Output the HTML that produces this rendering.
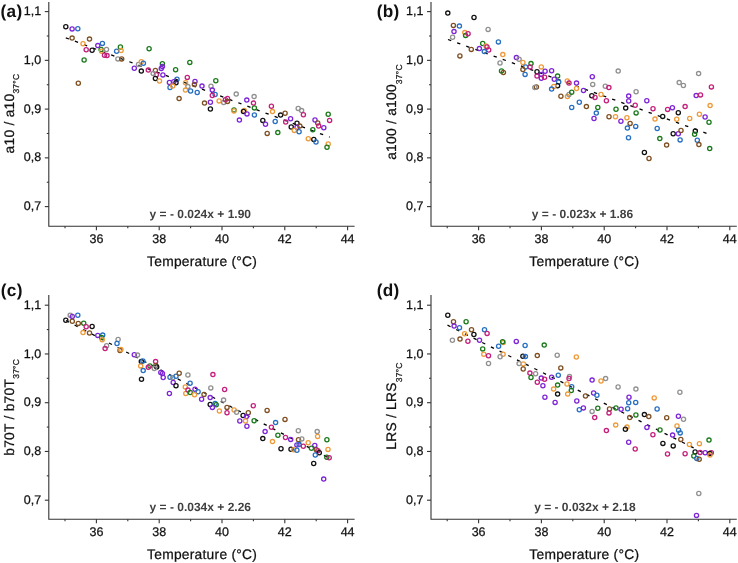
<!DOCTYPE html>
<html><head><meta charset="utf-8"><style>
html,body{margin:0;padding:0;background:#fff;}
body{width:738px;height:563px;overflow:hidden;}
svg{display:block;will-change:transform;}
text{font-family:"Liberation Sans", sans-serif;fill:#111;text-rendering:geometricPrecision;}
.tk,.lab{stroke:#111;stroke-width:0.25px;}
.tk{font-size:12.5px;}
.lab{font-size:13.8px;letter-spacing:0.25px;}
.sub{font-size:8.5px;}
.eq{font-size:12px;font-weight:bold;fill:#404040;}
.pl{font-size:17.2px;font-weight:bold;letter-spacing:0.3px;}
.dots circle{fill:none;stroke-width:1.3;}
</style></head><body>
<svg width="738" height="563" viewBox="0 0 738 563">
<path d="M48.80 2.00V226.30H354.60" fill="none" stroke="#333333" stroke-width="1.1"/>
<path d="M44.80 11.60H48.80" stroke="#333333" stroke-width="1.1"/>
<text x="41.20" y="15.20" text-anchor="end" class="tk">1,1</text>
<path d="M46.80 35.98H48.80" stroke="#333333" stroke-width="1.1"/>
<path d="M44.80 60.35H48.80" stroke="#333333" stroke-width="1.1"/>
<text x="41.20" y="63.95" text-anchor="end" class="tk">1,0</text>
<path d="M46.80 84.73H48.80" stroke="#333333" stroke-width="1.1"/>
<path d="M44.80 109.10H48.80" stroke="#333333" stroke-width="1.1"/>
<text x="41.20" y="112.70" text-anchor="end" class="tk">0,9</text>
<path d="M46.80 133.47H48.80" stroke="#333333" stroke-width="1.1"/>
<path d="M44.80 157.85H48.80" stroke="#333333" stroke-width="1.1"/>
<text x="41.20" y="161.45" text-anchor="end" class="tk">0,8</text>
<path d="M46.80 182.23H48.80" stroke="#333333" stroke-width="1.1"/>
<path d="M44.80 206.60H48.80" stroke="#333333" stroke-width="1.1"/>
<text x="41.20" y="210.20" text-anchor="end" class="tk">0,7</text>
<path d="M65.00 226.30V228.30" stroke="#333333" stroke-width="1.1"/>
<path d="M96.40 226.30V230.30" stroke="#333333" stroke-width="1.1"/>
<text x="96.40" y="243.40" text-anchor="middle" class="tk">36</text>
<path d="M127.80 226.30V228.30" stroke="#333333" stroke-width="1.1"/>
<path d="M159.20 226.30V230.30" stroke="#333333" stroke-width="1.1"/>
<text x="159.20" y="243.40" text-anchor="middle" class="tk">38</text>
<path d="M190.60 226.30V228.30" stroke="#333333" stroke-width="1.1"/>
<path d="M222.00 226.30V230.30" stroke="#333333" stroke-width="1.1"/>
<text x="222.00" y="243.40" text-anchor="middle" class="tk">40</text>
<path d="M253.40 226.30V228.30" stroke="#333333" stroke-width="1.1"/>
<path d="M284.80 226.30V230.30" stroke="#333333" stroke-width="1.1"/>
<text x="284.80" y="243.40" text-anchor="middle" class="tk">42</text>
<path d="M316.20 226.30V228.30" stroke="#333333" stroke-width="1.1"/>
<path d="M347.60 226.30V230.30" stroke="#333333" stroke-width="1.1"/>
<text x="347.60" y="243.40" text-anchor="middle" class="tk">44</text>
<text x="200.30" y="217.90" text-anchor="middle" class="eq">y = - 0.024x + 1.90</text>
<text x="202.10" y="265.60" text-anchor="middle" class="lab">Temperature (°C)</text>
<text transform="translate(14.00,113.50) rotate(-90)" text-anchor="middle" class="lab">a10 / a10<tspan class="sub" dy="5.3">37°C</tspan></text>
<text x="0.60" y="16.50" class="pl">(a)</text>
<path d="M65.8 37.8L329.7 137.2" stroke="#000" stroke-width="1.3" stroke-dasharray="3.4 6.3" fill="none"/>
<path d="M431.00 2.00V226.30H736.80" fill="none" stroke="#333333" stroke-width="1.1"/>
<path d="M427.00 11.60H431.00" stroke="#333333" stroke-width="1.1"/>
<text x="423.40" y="15.20" text-anchor="end" class="tk">1,1</text>
<path d="M429.00 35.98H431.00" stroke="#333333" stroke-width="1.1"/>
<path d="M427.00 60.35H431.00" stroke="#333333" stroke-width="1.1"/>
<text x="423.40" y="63.95" text-anchor="end" class="tk">1,0</text>
<path d="M429.00 84.73H431.00" stroke="#333333" stroke-width="1.1"/>
<path d="M427.00 109.10H431.00" stroke="#333333" stroke-width="1.1"/>
<text x="423.40" y="112.70" text-anchor="end" class="tk">0,9</text>
<path d="M429.00 133.47H431.00" stroke="#333333" stroke-width="1.1"/>
<path d="M427.00 157.85H431.00" stroke="#333333" stroke-width="1.1"/>
<text x="423.40" y="161.45" text-anchor="end" class="tk">0,8</text>
<path d="M429.00 182.23H431.00" stroke="#333333" stroke-width="1.1"/>
<path d="M427.00 206.60H431.00" stroke="#333333" stroke-width="1.1"/>
<text x="423.40" y="210.20" text-anchor="end" class="tk">0,7</text>
<path d="M447.20 226.30V228.30" stroke="#333333" stroke-width="1.1"/>
<path d="M478.60 226.30V230.30" stroke="#333333" stroke-width="1.1"/>
<text x="478.60" y="243.40" text-anchor="middle" class="tk">36</text>
<path d="M510.00 226.30V228.30" stroke="#333333" stroke-width="1.1"/>
<path d="M541.40 226.30V230.30" stroke="#333333" stroke-width="1.1"/>
<text x="541.40" y="243.40" text-anchor="middle" class="tk">38</text>
<path d="M572.80 226.30V228.30" stroke="#333333" stroke-width="1.1"/>
<path d="M604.20 226.30V230.30" stroke="#333333" stroke-width="1.1"/>
<text x="604.20" y="243.40" text-anchor="middle" class="tk">40</text>
<path d="M635.60 226.30V228.30" stroke="#333333" stroke-width="1.1"/>
<path d="M667.00 226.30V230.30" stroke="#333333" stroke-width="1.1"/>
<text x="667.00" y="243.40" text-anchor="middle" class="tk">42</text>
<path d="M698.40 226.30V228.30" stroke="#333333" stroke-width="1.1"/>
<path d="M729.80 226.30V230.30" stroke="#333333" stroke-width="1.1"/>
<text x="729.80" y="243.40" text-anchor="middle" class="tk">44</text>
<text x="582.50" y="217.90" text-anchor="middle" class="eq">y = - 0.023x + 1.86</text>
<text x="584.30" y="265.60" text-anchor="middle" class="lab">Temperature (°C)</text>
<text transform="translate(396.20,112.00) rotate(-90)" text-anchor="middle" class="lab">a100 / a100<tspan class="sub" dy="5.3">37°C</tspan></text>
<text x="376.80" y="16.50" class="pl">(b)</text>
<path d="M448.0 39.5L706.8 133.4" stroke="#000" stroke-width="1.3" stroke-dasharray="3.4 6.3" fill="none"/>
<path d="M48.80 295.00V519.30H354.60" fill="none" stroke="#333333" stroke-width="1.1"/>
<path d="M44.80 305.20H48.80" stroke="#333333" stroke-width="1.1"/>
<text x="41.20" y="308.80" text-anchor="end" class="tk">1,1</text>
<path d="M46.80 329.57H48.80" stroke="#333333" stroke-width="1.1"/>
<path d="M44.80 353.95H48.80" stroke="#333333" stroke-width="1.1"/>
<text x="41.20" y="357.55" text-anchor="end" class="tk">1,0</text>
<path d="M46.80 378.32H48.80" stroke="#333333" stroke-width="1.1"/>
<path d="M44.80 402.70H48.80" stroke="#333333" stroke-width="1.1"/>
<text x="41.20" y="406.30" text-anchor="end" class="tk">0,9</text>
<path d="M46.80 427.07H48.80" stroke="#333333" stroke-width="1.1"/>
<path d="M44.80 451.45H48.80" stroke="#333333" stroke-width="1.1"/>
<text x="41.20" y="455.05" text-anchor="end" class="tk">0,8</text>
<path d="M46.80 475.83H48.80" stroke="#333333" stroke-width="1.1"/>
<path d="M44.80 500.20H48.80" stroke="#333333" stroke-width="1.1"/>
<text x="41.20" y="503.80" text-anchor="end" class="tk">0,7</text>
<path d="M65.00 519.30V521.30" stroke="#333333" stroke-width="1.1"/>
<path d="M96.40 519.30V523.30" stroke="#333333" stroke-width="1.1"/>
<text x="96.40" y="536.40" text-anchor="middle" class="tk">36</text>
<path d="M127.80 519.30V521.30" stroke="#333333" stroke-width="1.1"/>
<path d="M159.20 519.30V523.30" stroke="#333333" stroke-width="1.1"/>
<text x="159.20" y="536.40" text-anchor="middle" class="tk">38</text>
<path d="M190.60 519.30V521.30" stroke="#333333" stroke-width="1.1"/>
<path d="M222.00 519.30V523.30" stroke="#333333" stroke-width="1.1"/>
<text x="222.00" y="536.40" text-anchor="middle" class="tk">40</text>
<path d="M253.40 519.30V521.30" stroke="#333333" stroke-width="1.1"/>
<path d="M284.80 519.30V523.30" stroke="#333333" stroke-width="1.1"/>
<text x="284.80" y="536.40" text-anchor="middle" class="tk">42</text>
<path d="M316.20 519.30V521.30" stroke="#333333" stroke-width="1.1"/>
<path d="M347.60 519.30V523.30" stroke="#333333" stroke-width="1.1"/>
<text x="347.60" y="536.40" text-anchor="middle" class="tk">44</text>
<text x="200.30" y="510.90" text-anchor="middle" class="eq">y = - 0.034x + 2.26</text>
<text x="202.10" y="558.60" text-anchor="middle" class="lab">Temperature (°C)</text>
<text transform="translate(14.00,407.30) rotate(-90)" text-anchor="middle" class="lab">b70T / b70T<tspan class="sub" dy="5.3">37°C</tspan></text>
<text x="0.80" y="296.30" class="pl">(c)</text>
<path d="M66.0 320.5L329.0 458.0" stroke="#000" stroke-width="1.3" stroke-dasharray="3.4 6.3" fill="none"/>
<path d="M431.00 295.00V519.30H736.80" fill="none" stroke="#333333" stroke-width="1.1"/>
<path d="M427.00 305.20H431.00" stroke="#333333" stroke-width="1.1"/>
<text x="423.40" y="308.80" text-anchor="end" class="tk">1,1</text>
<path d="M429.00 329.57H431.00" stroke="#333333" stroke-width="1.1"/>
<path d="M427.00 353.95H431.00" stroke="#333333" stroke-width="1.1"/>
<text x="423.40" y="357.55" text-anchor="end" class="tk">1,0</text>
<path d="M429.00 378.32H431.00" stroke="#333333" stroke-width="1.1"/>
<path d="M427.00 402.70H431.00" stroke="#333333" stroke-width="1.1"/>
<text x="423.40" y="406.30" text-anchor="end" class="tk">0,9</text>
<path d="M429.00 427.07H431.00" stroke="#333333" stroke-width="1.1"/>
<path d="M427.00 451.45H431.00" stroke="#333333" stroke-width="1.1"/>
<text x="423.40" y="455.05" text-anchor="end" class="tk">0,8</text>
<path d="M429.00 475.83H431.00" stroke="#333333" stroke-width="1.1"/>
<path d="M427.00 500.20H431.00" stroke="#333333" stroke-width="1.1"/>
<text x="423.40" y="503.80" text-anchor="end" class="tk">0,7</text>
<path d="M447.20 519.30V521.30" stroke="#333333" stroke-width="1.1"/>
<path d="M478.60 519.30V523.30" stroke="#333333" stroke-width="1.1"/>
<text x="478.60" y="536.40" text-anchor="middle" class="tk">36</text>
<path d="M510.00 519.30V521.30" stroke="#333333" stroke-width="1.1"/>
<path d="M541.40 519.30V523.30" stroke="#333333" stroke-width="1.1"/>
<text x="541.40" y="536.40" text-anchor="middle" class="tk">38</text>
<path d="M572.80 519.30V521.30" stroke="#333333" stroke-width="1.1"/>
<path d="M604.20 519.30V523.30" stroke="#333333" stroke-width="1.1"/>
<text x="604.20" y="536.40" text-anchor="middle" class="tk">40</text>
<path d="M635.60 519.30V521.30" stroke="#333333" stroke-width="1.1"/>
<path d="M667.00 519.30V523.30" stroke="#333333" stroke-width="1.1"/>
<text x="667.00" y="536.40" text-anchor="middle" class="tk">42</text>
<path d="M698.40 519.30V521.30" stroke="#333333" stroke-width="1.1"/>
<path d="M729.80 519.30V523.30" stroke="#333333" stroke-width="1.1"/>
<text x="729.80" y="536.40" text-anchor="middle" class="tk">44</text>
<text x="584.90" y="510.90" text-anchor="middle" class="eq">y = - 0.032x + 2.18</text>
<text x="584.30" y="558.60" text-anchor="middle" class="lab">Temperature (°C)</text>
<text transform="translate(396.20,406.00) rotate(-90)" text-anchor="middle" class="lab">LRS / LRS<tspan class="sub" dy="5.3">37°C</tspan></text>
<text x="376.80" y="296.30" class="pl">(d)</text>
<path d="M447.5 325.2L710.0 456.0" stroke="#000" stroke-width="1.3" stroke-dasharray="3.4 6.3" fill="none"/>
<g class="dots">
<circle cx="65.8" cy="26.7" r="2.1" stroke="#111111"/>
<circle cx="72.1" cy="28.9" r="2.1" stroke="#7d24d6"/>
<circle cx="77.8" cy="28.7" r="2.1" stroke="#276fc2"/>
<circle cx="72.1" cy="38.1" r="2.1" stroke="#7f4f22"/>
<circle cx="89.5" cy="39.1" r="2.1" stroke="#7f4f22"/>
<circle cx="83.0" cy="43.7" r="2.1" stroke="#ee9a38"/>
<circle cx="86.2" cy="49.7" r="2.1" stroke="#c41f7c"/>
<circle cx="92.1" cy="50.2" r="2.1" stroke="#111111"/>
<circle cx="97.8" cy="45.6" r="2.1" stroke="#7d24d6"/>
<circle cx="102.4" cy="43.4" r="2.1" stroke="#276fc2"/>
<circle cx="101.1" cy="49.5" r="2.1" stroke="#1a7a1a"/>
<circle cx="101.6" cy="51.3" r="2.1" stroke="#ee9a38"/>
<circle cx="106.5" cy="49.5" r="2.1" stroke="#909090"/>
<circle cx="104.5" cy="55.3" r="2.1" stroke="#c41f7c"/>
<circle cx="107.0" cy="55.6" r="2.1" stroke="#c41f7c"/>
<circle cx="84.1" cy="60.0" r="2.1" stroke="#1a7a1a"/>
<circle cx="116.6" cy="51.3" r="2.1" stroke="#276fc2"/>
<circle cx="120.4" cy="47.0" r="2.1" stroke="#1a7a1a"/>
<circle cx="121.1" cy="50.6" r="2.1" stroke="#ee9a38"/>
<circle cx="117.9" cy="58.9" r="2.1" stroke="#909090"/>
<circle cx="121.7" cy="58.9" r="2.1" stroke="#7f4f22"/>
<circle cx="134.3" cy="68.3" r="2.1" stroke="#7d24d6"/>
<circle cx="149.1" cy="48.7" r="2.1" stroke="#1a7a1a"/>
<circle cx="138.5" cy="64.5" r="2.1" stroke="#909090"/>
<circle cx="141.3" cy="61.7" r="2.1" stroke="#ee9a38"/>
<circle cx="143.4" cy="63.3" r="2.1" stroke="#276fc2"/>
<circle cx="141.3" cy="71.1" r="2.1" stroke="#111111"/>
<circle cx="148.3" cy="70.1" r="2.1" stroke="#c41f7c"/>
<circle cx="155.4" cy="70.4" r="2.1" stroke="#7f4f22"/>
<circle cx="162.4" cy="63.8" r="2.1" stroke="#1a7a1a"/>
<circle cx="161.3" cy="68.4" r="2.1" stroke="#7d24d6"/>
<circle cx="162.4" cy="66.6" r="2.1" stroke="#7d24d6"/>
<circle cx="156.4" cy="74.7" r="2.1" stroke="#c41f7c"/>
<circle cx="153.2" cy="73.6" r="2.1" stroke="#909090"/>
<circle cx="155.4" cy="78.5" r="2.1" stroke="#111111"/>
<circle cx="159.5" cy="81.0" r="2.1" stroke="#ee9a38"/>
<circle cx="162.9" cy="74.9" r="2.1" stroke="#7d24d6"/>
<circle cx="175.6" cy="69.8" r="2.1" stroke="#1a7a1a"/>
<circle cx="189.8" cy="62.4" r="2.1" stroke="#1a7a1a"/>
<circle cx="187.3" cy="77.4" r="2.1" stroke="#c41f7c"/>
<circle cx="177.0" cy="79.2" r="2.1" stroke="#276fc2"/>
<circle cx="169.4" cy="82.5" r="2.1" stroke="#7d24d6"/>
<circle cx="173.8" cy="81.7" r="2.1" stroke="#7d24d6"/>
<circle cx="176.0" cy="82.8" r="2.1" stroke="#111111"/>
<circle cx="170.0" cy="87.5" r="2.1" stroke="#276fc2"/>
<circle cx="172.7" cy="86.1" r="2.1" stroke="#ee9a38"/>
<circle cx="185.5" cy="82.8" r="2.1" stroke="#ee9a38"/>
<circle cx="187.9" cy="86.6" r="2.1" stroke="#909090"/>
<circle cx="185.5" cy="90.1" r="2.1" stroke="#ee9a38"/>
<circle cx="190.6" cy="91.0" r="2.1" stroke="#276fc2"/>
<circle cx="195.0" cy="81.4" r="2.1" stroke="#7d24d6"/>
<circle cx="194.4" cy="84.4" r="2.1" stroke="#7f4f22"/>
<circle cx="202.0" cy="86.1" r="2.1" stroke="#7d24d6"/>
<circle cx="197.2" cy="92.5" r="2.1" stroke="#276fc2"/>
<circle cx="179.1" cy="98.6" r="2.1" stroke="#7f4f22"/>
<circle cx="215.8" cy="80.8" r="2.1" stroke="#1a7a1a"/>
<circle cx="211.0" cy="86.3" r="2.1" stroke="#909090"/>
<circle cx="212.3" cy="90.1" r="2.1" stroke="#7d24d6"/>
<circle cx="215.1" cy="94.4" r="2.1" stroke="#276fc2"/>
<circle cx="212.3" cy="95.5" r="2.1" stroke="#c41f7c"/>
<circle cx="204.5" cy="103.1" r="2.1" stroke="#7f4f22"/>
<circle cx="210.4" cy="102.3" r="2.1" stroke="#7d24d6"/>
<circle cx="210.4" cy="109.0" r="2.1" stroke="#111111"/>
<circle cx="219.1" cy="100.9" r="2.1" stroke="#ee9a38"/>
<circle cx="223.7" cy="102.5" r="2.1" stroke="#909090"/>
<circle cx="225.4" cy="99.8" r="2.1" stroke="#c41f7c"/>
<circle cx="227.5" cy="98.4" r="2.1" stroke="#c41f7c"/>
<circle cx="227.5" cy="101.4" r="2.1" stroke="#7f4f22"/>
<circle cx="236.2" cy="94.1" r="2.1" stroke="#909090"/>
<circle cx="246.8" cy="100.1" r="2.1" stroke="#7d24d6"/>
<circle cx="254.1" cy="96.6" r="2.1" stroke="#909090"/>
<circle cx="253.5" cy="103.1" r="2.1" stroke="#c41f7c"/>
<circle cx="254.4" cy="107.9" r="2.1" stroke="#1a7a1a"/>
<circle cx="234.0" cy="110.0" r="2.1" stroke="#1a7a1a"/>
<circle cx="234.0" cy="111.0" r="2.1" stroke="#ee9a38"/>
<circle cx="244.3" cy="110.5" r="2.1" stroke="#ee9a38"/>
<circle cx="243.5" cy="111.5" r="2.1" stroke="#111111"/>
<circle cx="247.0" cy="113.9" r="2.1" stroke="#7d24d6"/>
<circle cx="254.4" cy="115.0" r="2.1" stroke="#276fc2"/>
<circle cx="239.4" cy="120.1" r="2.1" stroke="#7d24d6"/>
<circle cx="262.8" cy="120.4" r="2.1" stroke="#111111"/>
<circle cx="265.5" cy="124.2" r="2.1" stroke="#7d24d6"/>
<circle cx="271.4" cy="106.3" r="2.1" stroke="#c41f7c"/>
<circle cx="272.5" cy="111.6" r="2.1" stroke="#ee9a38"/>
<circle cx="275.2" cy="121.5" r="2.1" stroke="#276fc2"/>
<circle cx="267.2" cy="133.4" r="2.1" stroke="#7f4f22"/>
<circle cx="277.8" cy="132.6" r="2.1" stroke="#1a7a1a"/>
<circle cx="280.6" cy="115.1" r="2.1" stroke="#111111"/>
<circle cx="285.1" cy="113.3" r="2.1" stroke="#7f4f22"/>
<circle cx="285.7" cy="122.1" r="2.1" stroke="#c41f7c"/>
<circle cx="290.6" cy="118.8" r="2.1" stroke="#7d24d6"/>
<circle cx="298.2" cy="108.4" r="2.1" stroke="#909090"/>
<circle cx="301.6" cy="110.6" r="2.1" stroke="#909090"/>
<circle cx="303.4" cy="114.8" r="2.1" stroke="#c41f7c"/>
<circle cx="297.0" cy="123.3" r="2.1" stroke="#111111"/>
<circle cx="291.2" cy="127.0" r="2.1" stroke="#111111"/>
<circle cx="297.0" cy="127.3" r="2.1" stroke="#7d24d6"/>
<circle cx="299.8" cy="126.1" r="2.1" stroke="#7f4f22"/>
<circle cx="294.3" cy="130.4" r="2.1" stroke="#ee9a38"/>
<circle cx="299.1" cy="131.8" r="2.1" stroke="#276fc2"/>
<circle cx="312.8" cy="129.8" r="2.1" stroke="#1a7a1a"/>
<circle cx="308.3" cy="138.7" r="2.1" stroke="#ee9a38"/>
<circle cx="313.8" cy="139.5" r="2.1" stroke="#111111"/>
<circle cx="316.0" cy="142.0" r="2.1" stroke="#276fc2"/>
<circle cx="315.0" cy="120.0" r="2.1" stroke="#7d24d6"/>
<circle cx="317.7" cy="123.0" r="2.1" stroke="#7f4f22"/>
<circle cx="318.7" cy="126.1" r="2.1" stroke="#c41f7c"/>
<circle cx="323.8" cy="127.7" r="2.1" stroke="#7d24d6"/>
<circle cx="328.2" cy="114.3" r="2.1" stroke="#1a7a1a"/>
<circle cx="329.6" cy="120.4" r="2.1" stroke="#c41f7c"/>
<circle cx="328.2" cy="144.0" r="2.1" stroke="#ee9a38"/>
<circle cx="327.0" cy="147.2" r="2.1" stroke="#1a7a1a"/>
<circle cx="78.3" cy="83.3" r="2.1" stroke="#7f4f22"/>
<circle cx="447.8" cy="13.1" r="2.1" stroke="#111111"/>
<circle cx="474.0" cy="17.5" r="2.1" stroke="#111111"/>
<circle cx="453.4" cy="25.4" r="2.1" stroke="#7f4f22"/>
<circle cx="459.4" cy="26.1" r="2.1" stroke="#276fc2"/>
<circle cx="454.0" cy="31.6" r="2.1" stroke="#7d24d6"/>
<circle cx="452.6" cy="37.3" r="2.1" stroke="#909090"/>
<circle cx="464.8" cy="32.6" r="2.1" stroke="#ee9a38"/>
<circle cx="465.6" cy="35.4" r="2.1" stroke="#1a7a1a"/>
<circle cx="468.1" cy="33.7" r="2.1" stroke="#c41f7c"/>
<circle cx="488.1" cy="29.4" r="2.1" stroke="#909090"/>
<circle cx="498.4" cy="41.9" r="2.1" stroke="#276fc2"/>
<circle cx="482.7" cy="43.5" r="2.1" stroke="#1a7a1a"/>
<circle cx="486.0" cy="46.0" r="2.1" stroke="#ee9a38"/>
<circle cx="487.0" cy="46.9" r="2.1" stroke="#c41f7c"/>
<circle cx="488.7" cy="50.0" r="2.1" stroke="#c41f7c"/>
<circle cx="484.3" cy="51.6" r="2.1" stroke="#276fc2"/>
<circle cx="479.4" cy="48.6" r="2.1" stroke="#7d24d6"/>
<circle cx="471.3" cy="49.4" r="2.1" stroke="#7f4f22"/>
<circle cx="459.9" cy="55.9" r="2.1" stroke="#7f4f22"/>
<circle cx="502.8" cy="54.6" r="2.1" stroke="#ee9a38"/>
<circle cx="500.0" cy="63.0" r="2.1" stroke="#909090"/>
<circle cx="501.5" cy="70.9" r="2.1" stroke="#1a7a1a"/>
<circle cx="503.4" cy="72.5" r="2.1" stroke="#7f4f22"/>
<circle cx="516.4" cy="57.6" r="2.1" stroke="#7d24d6"/>
<circle cx="519.1" cy="59.3" r="2.1" stroke="#909090"/>
<circle cx="522.9" cy="62.5" r="2.1" stroke="#ee9a38"/>
<circle cx="531.0" cy="63.6" r="2.1" stroke="#1a7a1a"/>
<circle cx="530.1" cy="66.9" r="2.1" stroke="#c41f7c"/>
<circle cx="525.6" cy="66.9" r="2.1" stroke="#276fc2"/>
<circle cx="522.9" cy="69.6" r="2.1" stroke="#7f4f22"/>
<circle cx="525.1" cy="74.4" r="2.1" stroke="#276fc2"/>
<circle cx="541.3" cy="66.9" r="2.1" stroke="#ee9a38"/>
<circle cx="545.1" cy="71.2" r="2.1" stroke="#7d24d6"/>
<circle cx="537.0" cy="71.7" r="2.1" stroke="#111111"/>
<circle cx="537.0" cy="76.1" r="2.1" stroke="#c41f7c"/>
<circle cx="541.3" cy="74.4" r="2.1" stroke="#7d24d6"/>
<circle cx="541.3" cy="78.2" r="2.1" stroke="#7d24d6"/>
<circle cx="544.6" cy="77.2" r="2.1" stroke="#c41f7c"/>
<circle cx="551.6" cy="70.7" r="2.1" stroke="#7d24d6"/>
<circle cx="557.6" cy="76.1" r="2.1" stroke="#1a7a1a"/>
<circle cx="554.3" cy="79.3" r="2.1" stroke="#7d24d6"/>
<circle cx="558.7" cy="82.0" r="2.1" stroke="#276fc2"/>
<circle cx="557.6" cy="85.8" r="2.1" stroke="#111111"/>
<circle cx="553.8" cy="86.4" r="2.1" stroke="#ee9a38"/>
<circle cx="551.6" cy="89.1" r="2.1" stroke="#276fc2"/>
<circle cx="536.4" cy="86.9" r="2.1" stroke="#7f4f22"/>
<circle cx="534.8" cy="87.5" r="2.1" stroke="#909090"/>
<circle cx="567.3" cy="81.0" r="2.1" stroke="#ee9a38"/>
<circle cx="569.0" cy="83.1" r="2.1" stroke="#c41f7c"/>
<circle cx="576.5" cy="83.1" r="2.1" stroke="#7d24d6"/>
<circle cx="576.5" cy="88.5" r="2.1" stroke="#ee9a38"/>
<circle cx="583.5" cy="90.5" r="2.1" stroke="#7d24d6"/>
<circle cx="560.9" cy="96.3" r="2.1" stroke="#7f4f22"/>
<circle cx="567.4" cy="96.6" r="2.1" stroke="#ee9a38"/>
<circle cx="569.0" cy="94.5" r="2.1" stroke="#909090"/>
<circle cx="571.7" cy="92.3" r="2.1" stroke="#1a7a1a"/>
<circle cx="579.3" cy="102.3" r="2.1" stroke="#276fc2"/>
<circle cx="571.7" cy="107.5" r="2.1" stroke="#276fc2"/>
<circle cx="586.4" cy="106.6" r="2.1" stroke="#7f4f22"/>
<circle cx="592.3" cy="76.8" r="2.1" stroke="#7d24d6"/>
<circle cx="592.7" cy="84.4" r="2.1" stroke="#909090"/>
<circle cx="591.8" cy="95.8" r="2.1" stroke="#111111"/>
<circle cx="595.0" cy="97.4" r="2.1" stroke="#c41f7c"/>
<circle cx="601.0" cy="94.5" r="2.1" stroke="#ee9a38"/>
<circle cx="597.8" cy="107.5" r="2.1" stroke="#1a7a1a"/>
<circle cx="596.3" cy="113.1" r="2.1" stroke="#276fc2"/>
<circle cx="594.0" cy="118.5" r="2.1" stroke="#7d24d6"/>
<circle cx="605.3" cy="86.2" r="2.1" stroke="#909090"/>
<circle cx="608.9" cy="87.6" r="2.1" stroke="#c41f7c"/>
<circle cx="606.4" cy="100.7" r="2.1" stroke="#c41f7c"/>
<circle cx="609.0" cy="116.8" r="2.1" stroke="#7f4f22"/>
<circle cx="618.2" cy="71.1" r="2.1" stroke="#909090"/>
<circle cx="636.1" cy="91.7" r="2.1" stroke="#909090"/>
<circle cx="628.7" cy="96.1" r="2.1" stroke="#7d24d6"/>
<circle cx="628.7" cy="101.0" r="2.1" stroke="#7d24d6"/>
<circle cx="646.8" cy="100.7" r="2.1" stroke="#7d24d6"/>
<circle cx="635.2" cy="105.3" r="2.1" stroke="#c41f7c"/>
<circle cx="625.7" cy="108.1" r="2.1" stroke="#111111"/>
<circle cx="616.0" cy="109.2" r="2.1" stroke="#1a7a1a"/>
<circle cx="653.0" cy="108.7" r="2.1" stroke="#c41f7c"/>
<circle cx="667.6" cy="109.4" r="2.1" stroke="#c41f7c"/>
<circle cx="672.4" cy="107.7" r="2.1" stroke="#7d24d6"/>
<circle cx="679.2" cy="82.6" r="2.1" stroke="#909090"/>
<circle cx="615.5" cy="116.7" r="2.1" stroke="#ee9a38"/>
<circle cx="636.1" cy="112.9" r="2.1" stroke="#1a7a1a"/>
<circle cx="626.9" cy="117.8" r="2.1" stroke="#ee9a38"/>
<circle cx="620.9" cy="121.2" r="2.1" stroke="#7d24d6"/>
<circle cx="630.1" cy="123.4" r="2.1" stroke="#7f4f22"/>
<circle cx="627.4" cy="128.1" r="2.1" stroke="#276fc2"/>
<circle cx="635.7" cy="126.4" r="2.1" stroke="#276fc2"/>
<circle cx="628.5" cy="137.8" r="2.1" stroke="#276fc2"/>
<circle cx="662.7" cy="116.4" r="2.1" stroke="#111111"/>
<circle cx="655.0" cy="119.1" r="2.1" stroke="#ee9a38"/>
<circle cx="657.2" cy="128.5" r="2.1" stroke="#276fc2"/>
<circle cx="659.8" cy="138.6" r="2.1" stroke="#1a7a1a"/>
<circle cx="666.6" cy="145.1" r="2.1" stroke="#7f4f22"/>
<circle cx="644.4" cy="152.5" r="2.1" stroke="#111111"/>
<circle cx="649.0" cy="158.5" r="2.1" stroke="#7f4f22"/>
<circle cx="698.6" cy="73.6" r="2.1" stroke="#909090"/>
<circle cx="683.4" cy="85.5" r="2.1" stroke="#909090"/>
<circle cx="711.4" cy="86.9" r="2.1" stroke="#c41f7c"/>
<circle cx="696.2" cy="95.6" r="2.1" stroke="#7d24d6"/>
<circle cx="700.5" cy="94.9" r="2.1" stroke="#c41f7c"/>
<circle cx="685.1" cy="106.6" r="2.1" stroke="#c41f7c"/>
<circle cx="710.1" cy="105.6" r="2.1" stroke="#ee9a38"/>
<circle cx="678.3" cy="112.8" r="2.1" stroke="#111111"/>
<circle cx="699.4" cy="114.2" r="2.1" stroke="#ee9a38"/>
<circle cx="705.1" cy="117.0" r="2.1" stroke="#7d24d6"/>
<circle cx="676.7" cy="119.3" r="2.1" stroke="#ee9a38"/>
<circle cx="689.7" cy="118.5" r="2.1" stroke="#ee9a38"/>
<circle cx="709.0" cy="122.3" r="2.1" stroke="#1a7a1a"/>
<circle cx="673.2" cy="133.7" r="2.1" stroke="#111111"/>
<circle cx="678.3" cy="133.7" r="2.1" stroke="#7d24d6"/>
<circle cx="681.0" cy="130.5" r="2.1" stroke="#7f4f22"/>
<circle cx="680.1" cy="139.9" r="2.1" stroke="#276fc2"/>
<circle cx="695.3" cy="131.0" r="2.1" stroke="#111111"/>
<circle cx="694.6" cy="134.3" r="2.1" stroke="#1a7a1a"/>
<circle cx="697.3" cy="140.2" r="2.1" stroke="#276fc2"/>
<circle cx="698.9" cy="144.6" r="2.1" stroke="#7f4f22"/>
<circle cx="709.7" cy="148.6" r="2.1" stroke="#1a7a1a"/>
<circle cx="65.8" cy="320.2" r="2.1" stroke="#111111"/>
<circle cx="70.2" cy="315.3" r="2.1" stroke="#909090"/>
<circle cx="72.3" cy="316.4" r="2.1" stroke="#7d24d6"/>
<circle cx="77.8" cy="315.3" r="2.1" stroke="#276fc2"/>
<circle cx="72.3" cy="321.3" r="2.1" stroke="#7f4f22"/>
<circle cx="78.3" cy="323.4" r="2.1" stroke="#7f4f22"/>
<circle cx="83.7" cy="323.2" r="2.1" stroke="#1a7a1a"/>
<circle cx="86.2" cy="326.7" r="2.1" stroke="#c41f7c"/>
<circle cx="92.1" cy="326.5" r="2.1" stroke="#111111"/>
<circle cx="83.0" cy="332.6" r="2.1" stroke="#ee9a38"/>
<circle cx="89.5" cy="333.0" r="2.1" stroke="#7f4f22"/>
<circle cx="97.8" cy="335.4" r="2.1" stroke="#7d24d6"/>
<circle cx="102.7" cy="335.1" r="2.1" stroke="#276fc2"/>
<circle cx="101.6" cy="337.5" r="2.1" stroke="#1a7a1a"/>
<circle cx="102.2" cy="339.7" r="2.1" stroke="#ee9a38"/>
<circle cx="106.6" cy="345.8" r="2.1" stroke="#909090"/>
<circle cx="105.1" cy="348.6" r="2.1" stroke="#c41f7c"/>
<circle cx="118.1" cy="339.5" r="2.1" stroke="#909090"/>
<circle cx="117.0" cy="343.5" r="2.1" stroke="#276fc2"/>
<circle cx="120.0" cy="350.5" r="2.1" stroke="#7f4f22"/>
<circle cx="120.9" cy="349.4" r="2.1" stroke="#ee9a38"/>
<circle cx="134.3" cy="354.8" r="2.1" stroke="#7d24d6"/>
<circle cx="137.5" cy="355.1" r="2.1" stroke="#909090"/>
<circle cx="141.3" cy="361.6" r="2.1" stroke="#111111"/>
<circle cx="142.9" cy="361.0" r="2.1" stroke="#276fc2"/>
<circle cx="140.7" cy="365.9" r="2.1" stroke="#ee9a38"/>
<circle cx="143.2" cy="370.6" r="2.1" stroke="#276fc2"/>
<circle cx="141.5" cy="379.2" r="2.1" stroke="#111111"/>
<circle cx="149.9" cy="365.9" r="2.1" stroke="#1a7a1a"/>
<circle cx="148.3" cy="367.3" r="2.1" stroke="#c41f7c"/>
<circle cx="155.6" cy="361.6" r="2.1" stroke="#c41f7c"/>
<circle cx="155.9" cy="365.4" r="2.1" stroke="#7f4f22"/>
<circle cx="156.7" cy="367.0" r="2.1" stroke="#111111"/>
<circle cx="154.3" cy="368.6" r="2.1" stroke="#909090"/>
<circle cx="160.8" cy="372.4" r="2.1" stroke="#7d24d6"/>
<circle cx="162.4" cy="373.5" r="2.1" stroke="#7d24d6"/>
<circle cx="163.2" cy="377.5" r="2.1" stroke="#7d24d6"/>
<circle cx="170.0" cy="377.3" r="2.1" stroke="#276fc2"/>
<circle cx="172.7" cy="377.8" r="2.1" stroke="#909090"/>
<circle cx="176.0" cy="376.2" r="2.1" stroke="#276fc2"/>
<circle cx="179.2" cy="373.2" r="2.1" stroke="#7f4f22"/>
<circle cx="173.2" cy="382.5" r="2.1" stroke="#7d24d6"/>
<circle cx="176.0" cy="385.7" r="2.1" stroke="#111111"/>
<circle cx="187.9" cy="375.0" r="2.1" stroke="#909090"/>
<circle cx="190.1" cy="383.2" r="2.1" stroke="#276fc2"/>
<circle cx="185.3" cy="387.0" r="2.1" stroke="#ee9a38"/>
<circle cx="185.8" cy="393.5" r="2.1" stroke="#ee9a38"/>
<circle cx="188.0" cy="390.1" r="2.1" stroke="#c41f7c"/>
<circle cx="190.2" cy="392.5" r="2.1" stroke="#1a7a1a"/>
<circle cx="195.0" cy="389.3" r="2.1" stroke="#7d24d6"/>
<circle cx="198.1" cy="391.8" r="2.1" stroke="#276fc2"/>
<circle cx="194.5" cy="394.7" r="2.1" stroke="#ee9a38"/>
<circle cx="204.0" cy="394.4" r="2.1" stroke="#7f4f22"/>
<circle cx="169.4" cy="393.5" r="2.1" stroke="#7d24d6"/>
<circle cx="212.9" cy="374.6" r="2.1" stroke="#c41f7c"/>
<circle cx="201.6" cy="399.3" r="2.1" stroke="#7d24d6"/>
<circle cx="210.2" cy="397.6" r="2.1" stroke="#7d24d6"/>
<circle cx="210.8" cy="387.9" r="2.1" stroke="#909090"/>
<circle cx="224.6" cy="389.5" r="2.1" stroke="#c41f7c"/>
<circle cx="223.6" cy="400.1" r="2.1" stroke="#909090"/>
<circle cx="210.2" cy="404.5" r="2.1" stroke="#111111"/>
<circle cx="215.1" cy="403.6" r="2.1" stroke="#276fc2"/>
<circle cx="216.2" cy="404.7" r="2.1" stroke="#1a7a1a"/>
<circle cx="212.4" cy="407.4" r="2.1" stroke="#7d24d6"/>
<circle cx="219.4" cy="411.0" r="2.1" stroke="#ee9a38"/>
<circle cx="227.0" cy="407.4" r="2.1" stroke="#7f4f22"/>
<circle cx="227.0" cy="412.8" r="2.1" stroke="#c41f7c"/>
<circle cx="234.1" cy="409.9" r="2.1" stroke="#ee9a38"/>
<circle cx="236.6" cy="412.3" r="2.1" stroke="#909090"/>
<circle cx="253.3" cy="405.8" r="2.1" stroke="#c41f7c"/>
<circle cx="248.3" cy="412.8" r="2.1" stroke="#7f4f22"/>
<circle cx="243.1" cy="415.5" r="2.1" stroke="#111111"/>
<circle cx="246.5" cy="416.6" r="2.1" stroke="#7d24d6"/>
<circle cx="245.5" cy="421.0" r="2.1" stroke="#ee9a38"/>
<circle cx="239.8" cy="421.0" r="2.1" stroke="#7d24d6"/>
<circle cx="246.9" cy="426.3" r="2.1" stroke="#7d24d6"/>
<circle cx="254.1" cy="420.7" r="2.1" stroke="#1a7a1a"/>
<circle cx="267.1" cy="410.4" r="2.1" stroke="#7f4f22"/>
<circle cx="275.6" cy="422.6" r="2.1" stroke="#276fc2"/>
<circle cx="285.0" cy="419.4" r="2.1" stroke="#7f4f22"/>
<circle cx="271.4" cy="427.3" r="2.1" stroke="#c41f7c"/>
<circle cx="265.1" cy="431.6" r="2.1" stroke="#7d24d6"/>
<circle cx="277.9" cy="435.3" r="2.1" stroke="#1a7a1a"/>
<circle cx="262.8" cy="438.6" r="2.1" stroke="#111111"/>
<circle cx="272.5" cy="441.6" r="2.1" stroke="#ee9a38"/>
<circle cx="285.5" cy="437.5" r="2.1" stroke="#c41f7c"/>
<circle cx="290.7" cy="439.4" r="2.1" stroke="#7d24d6"/>
<circle cx="298.3" cy="430.7" r="2.1" stroke="#909090"/>
<circle cx="298.5" cy="439.7" r="2.1" stroke="#7f4f22"/>
<circle cx="301.8" cy="438.9" r="2.1" stroke="#909090"/>
<circle cx="296.9" cy="444.9" r="2.1" stroke="#7d24d6"/>
<circle cx="299.1" cy="444.6" r="2.1" stroke="#276fc2"/>
<circle cx="303.3" cy="446.2" r="2.1" stroke="#c41f7c"/>
<circle cx="308.2" cy="442.8" r="2.1" stroke="#ee9a38"/>
<circle cx="281.0" cy="448.7" r="2.1" stroke="#111111"/>
<circle cx="291.0" cy="449.2" r="2.1" stroke="#111111"/>
<circle cx="293.7" cy="449.7" r="2.1" stroke="#ee9a38"/>
<circle cx="296.9" cy="450.3" r="2.1" stroke="#276fc2"/>
<circle cx="317.2" cy="431.6" r="2.1" stroke="#909090"/>
<circle cx="317.6" cy="436.5" r="2.1" stroke="#ee9a38"/>
<circle cx="314.8" cy="445.4" r="2.1" stroke="#7d24d6"/>
<circle cx="311.4" cy="448.3" r="2.1" stroke="#1a7a1a"/>
<circle cx="316.3" cy="449.8" r="2.1" stroke="#7f4f22"/>
<circle cx="317.9" cy="450.8" r="2.1" stroke="#c41f7c"/>
<circle cx="319.3" cy="452.7" r="2.1" stroke="#111111"/>
<circle cx="315.3" cy="455.0" r="2.1" stroke="#276fc2"/>
<circle cx="313.7" cy="463.5" r="2.1" stroke="#111111"/>
<circle cx="323.7" cy="479.1" r="2.1" stroke="#7d24d6"/>
<circle cx="326.9" cy="439.8" r="2.1" stroke="#1a7a1a"/>
<circle cx="328.0" cy="449.4" r="2.1" stroke="#ee9a38"/>
<circle cx="326.8" cy="457.2" r="2.1" stroke="#1a7a1a"/>
<circle cx="329.2" cy="457.8" r="2.1" stroke="#c41f7c"/>
<circle cx="447.8" cy="315.3" r="2.1" stroke="#111111"/>
<circle cx="453.5" cy="321.8" r="2.1" stroke="#7f4f22"/>
<circle cx="466.1" cy="321.8" r="2.1" stroke="#1a7a1a"/>
<circle cx="454.1" cy="326.1" r="2.1" stroke="#7d24d6"/>
<circle cx="459.5" cy="327.8" r="2.1" stroke="#276fc2"/>
<circle cx="471.5" cy="329.7" r="2.1" stroke="#7f4f22"/>
<circle cx="464.6" cy="333.7" r="2.1" stroke="#ee9a38"/>
<circle cx="473.9" cy="334.5" r="2.1" stroke="#111111"/>
<circle cx="452.4" cy="340.2" r="2.1" stroke="#909090"/>
<circle cx="460.0" cy="339.1" r="2.1" stroke="#7f4f22"/>
<circle cx="467.9" cy="341.3" r="2.1" stroke="#c41f7c"/>
<circle cx="479.5" cy="340.2" r="2.1" stroke="#7d24d6"/>
<circle cx="484.5" cy="329.7" r="2.1" stroke="#276fc2"/>
<circle cx="487.1" cy="333.4" r="2.1" stroke="#c41f7c"/>
<circle cx="482.7" cy="348.9" r="2.1" stroke="#1a7a1a"/>
<circle cx="483.8" cy="354.3" r="2.1" stroke="#ee9a38"/>
<circle cx="488.5" cy="355.7" r="2.1" stroke="#c41f7c"/>
<circle cx="488.5" cy="363.5" r="2.1" stroke="#909090"/>
<circle cx="498.6" cy="346.2" r="2.1" stroke="#276fc2"/>
<circle cx="503.3" cy="342.6" r="2.1" stroke="#ee9a38"/>
<circle cx="502.6" cy="341.8" r="2.1" stroke="#1a7a1a"/>
<circle cx="503.1" cy="354.3" r="2.1" stroke="#ee9a38"/>
<circle cx="500.1" cy="356.8" r="2.1" stroke="#909090"/>
<circle cx="516.3" cy="341.4" r="2.1" stroke="#7d24d6"/>
<circle cx="525.1" cy="345.5" r="2.1" stroke="#276fc2"/>
<circle cx="544.2" cy="345.1" r="2.1" stroke="#1a7a1a"/>
<circle cx="522.9" cy="356.3" r="2.1" stroke="#111111"/>
<circle cx="525.4" cy="356.6" r="2.1" stroke="#276fc2"/>
<circle cx="537.3" cy="355.6" r="2.1" stroke="#7f4f22"/>
<circle cx="557.2" cy="355.2" r="2.1" stroke="#909090"/>
<circle cx="576.3" cy="357.0" r="2.1" stroke="#ee9a38"/>
<circle cx="519.1" cy="363.6" r="2.1" stroke="#909090"/>
<circle cx="523.4" cy="363.9" r="2.1" stroke="#ee9a38"/>
<circle cx="523.2" cy="369.0" r="2.1" stroke="#7f4f22"/>
<circle cx="560.8" cy="367.9" r="2.1" stroke="#7f4f22"/>
<circle cx="529.9" cy="373.1" r="2.1" stroke="#c41f7c"/>
<circle cx="535.6" cy="373.7" r="2.1" stroke="#909090"/>
<circle cx="531.0" cy="377.5" r="2.1" stroke="#1a7a1a"/>
<circle cx="541.3" cy="378.1" r="2.1" stroke="#7d24d6"/>
<circle cx="544.6" cy="379.3" r="2.1" stroke="#c41f7c"/>
<circle cx="551.6" cy="377.2" r="2.1" stroke="#7d24d6"/>
<circle cx="558.3" cy="375.3" r="2.1" stroke="#276fc2"/>
<circle cx="569.5" cy="376.6" r="2.1" stroke="#909090"/>
<circle cx="569.0" cy="378.5" r="2.1" stroke="#c41f7c"/>
<circle cx="537.3" cy="382.3" r="2.1" stroke="#c41f7c"/>
<circle cx="542.9" cy="385.8" r="2.1" stroke="#7d24d6"/>
<circle cx="557.6" cy="385.1" r="2.1" stroke="#1a7a1a"/>
<circle cx="553.6" cy="389.1" r="2.1" stroke="#ee9a38"/>
<circle cx="557.6" cy="394.1" r="2.1" stroke="#111111"/>
<circle cx="544.9" cy="397.3" r="2.1" stroke="#7d24d6"/>
<circle cx="555.1" cy="402.4" r="2.1" stroke="#7d24d6"/>
<circle cx="567.0" cy="384.0" r="2.1" stroke="#ee9a38"/>
<circle cx="571.7" cy="386.7" r="2.1" stroke="#276fc2"/>
<circle cx="571.3" cy="390.5" r="2.1" stroke="#1a7a1a"/>
<circle cx="567.7" cy="394.1" r="2.1" stroke="#ee9a38"/>
<circle cx="576.8" cy="401.0" r="2.1" stroke="#7d24d6"/>
<circle cx="579.3" cy="409.7" r="2.1" stroke="#276fc2"/>
<circle cx="583.4" cy="407.9" r="2.1" stroke="#7d24d6"/>
<circle cx="585.5" cy="396.0" r="2.1" stroke="#7f4f22"/>
<circle cx="592.1" cy="380.1" r="2.1" stroke="#7d24d6"/>
<circle cx="601.0" cy="381.0" r="2.1" stroke="#ee9a38"/>
<circle cx="605.6" cy="378.6" r="2.1" stroke="#909090"/>
<circle cx="618.1" cy="387.0" r="2.1" stroke="#909090"/>
<circle cx="635.9" cy="389.1" r="2.1" stroke="#909090"/>
<circle cx="654.2" cy="397.9" r="2.1" stroke="#ee9a38"/>
<circle cx="593.6" cy="393.0" r="2.1" stroke="#7d24d6"/>
<circle cx="596.9" cy="395.3" r="2.1" stroke="#276fc2"/>
<circle cx="592.1" cy="411.4" r="2.1" stroke="#909090"/>
<circle cx="597.8" cy="408.3" r="2.1" stroke="#1a7a1a"/>
<circle cx="609.5" cy="409.0" r="2.1" stroke="#7f4f22"/>
<circle cx="609.0" cy="412.9" r="2.1" stroke="#c41f7c"/>
<circle cx="616.0" cy="407.9" r="2.1" stroke="#1a7a1a"/>
<circle cx="621.1" cy="409.2" r="2.1" stroke="#7d24d6"/>
<circle cx="629.0" cy="397.3" r="2.1" stroke="#7d24d6"/>
<circle cx="628.7" cy="402.7" r="2.1" stroke="#276fc2"/>
<circle cx="635.7" cy="402.5" r="2.1" stroke="#276fc2"/>
<circle cx="627.6" cy="408.7" r="2.1" stroke="#276fc2"/>
<circle cx="635.9" cy="415.0" r="2.1" stroke="#1a7a1a"/>
<circle cx="644.4" cy="414.6" r="2.1" stroke="#111111"/>
<circle cx="594.7" cy="417.6" r="2.1" stroke="#c41f7c"/>
<circle cx="606.4" cy="430.6" r="2.1" stroke="#c41f7c"/>
<circle cx="615.7" cy="425.1" r="2.1" stroke="#ee9a38"/>
<circle cx="627.0" cy="427.1" r="2.1" stroke="#ee9a38"/>
<circle cx="625.4" cy="429.3" r="2.1" stroke="#111111"/>
<circle cx="629.7" cy="417.6" r="2.1" stroke="#7f4f22"/>
<circle cx="648.8" cy="416.6" r="2.1" stroke="#7f4f22"/>
<circle cx="646.9" cy="427.4" r="2.1" stroke="#7d24d6"/>
<circle cx="652.9" cy="434.7" r="2.1" stroke="#c41f7c"/>
<circle cx="628.7" cy="442.3" r="2.1" stroke="#7d24d6"/>
<circle cx="635.2" cy="449.0" r="2.1" stroke="#c41f7c"/>
<circle cx="679.9" cy="392.2" r="2.1" stroke="#909090"/>
<circle cx="657.1" cy="409.0" r="2.1" stroke="#276fc2"/>
<circle cx="666.7" cy="417.7" r="2.1" stroke="#7f4f22"/>
<circle cx="678.4" cy="416.2" r="2.1" stroke="#7d24d6"/>
<circle cx="683.5" cy="419.2" r="2.1" stroke="#909090"/>
<circle cx="677.0" cy="426.0" r="2.1" stroke="#ee9a38"/>
<circle cx="678.6" cy="430.2" r="2.1" stroke="#276fc2"/>
<circle cx="680.2" cy="432.9" r="2.1" stroke="#276fc2"/>
<circle cx="660.0" cy="430.0" r="2.1" stroke="#1a7a1a"/>
<circle cx="672.6" cy="435.1" r="2.1" stroke="#7d24d6"/>
<circle cx="680.8" cy="439.4" r="2.1" stroke="#7f4f22"/>
<circle cx="662.9" cy="443.4" r="2.1" stroke="#111111"/>
<circle cx="673.2" cy="445.9" r="2.1" stroke="#111111"/>
<circle cx="689.4" cy="444.5" r="2.1" stroke="#ee9a38"/>
<circle cx="699.4" cy="443.7" r="2.1" stroke="#ee9a38"/>
<circle cx="709.0" cy="440.1" r="2.1" stroke="#1a7a1a"/>
<circle cx="667.5" cy="454.0" r="2.1" stroke="#c41f7c"/>
<circle cx="685.1" cy="453.8" r="2.1" stroke="#c41f7c"/>
<circle cx="695.1" cy="451.9" r="2.1" stroke="#111111"/>
<circle cx="700.1" cy="452.4" r="2.1" stroke="#c41f7c"/>
<circle cx="705.2" cy="452.7" r="2.1" stroke="#7d24d6"/>
<circle cx="711.3" cy="452.7" r="2.1" stroke="#c41f7c"/>
<circle cx="709.8" cy="453.6" r="2.1" stroke="#111111"/>
<circle cx="710.0" cy="455.0" r="2.1" stroke="#ee9a38"/>
<circle cx="693.8" cy="456.0" r="2.1" stroke="#1a7a1a"/>
<circle cx="696.8" cy="458.4" r="2.1" stroke="#276fc2"/>
<circle cx="699.2" cy="459.2" r="2.1" stroke="#7f4f22"/>
<circle cx="698.8" cy="493.5" r="2.1" stroke="#909090"/>
<circle cx="696.5" cy="515.4" r="2.1" stroke="#7d24d6"/>
</g>
</svg>
</body></html>
